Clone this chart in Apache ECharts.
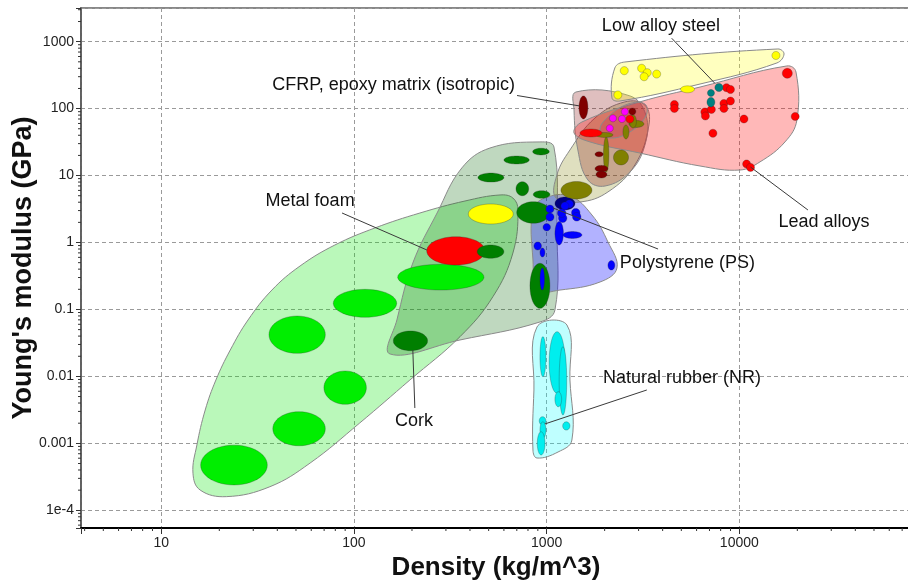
<!DOCTYPE html>
<html>
<head>
<meta charset="UTF-8">
<title>Young's modulus vs density</title>
<script src="https://cdn.jsdelivr.net/npm/echarts@6/dist/echarts.min.js"></script>
<style>
    body { margin: 0; background: #fff; }
    #root { width: 908px; height: 586px; }
</style>
</head>
<body>
<div id="root"></div>
<script>
// axis ranges: density (kg/m^3) and Young's modulus (GPa)
var densityRange = [3.83, 100000];
var modulusRange = [5.44e-5, 3184];
var densityTickLabels = ['10', '100', '1000', '10000'];      // 10^1 .. 10^4
var modulusTickLabels = ['1e-4', '0.001', '0.01', '0.1', '1', '10', '100', '1000']; // 10^-4 .. 10^3

// envelopes: outline points [density, modulus]
var foamEnvelope = [[14.6, 3.57e-4], [15.9, 2.01e-4], [21.8, 1.6e-4], [36.6, 2.25e-4], [59.2, 5.08e-4],
    [107, 2.01e-3], [195, 8.83e-3], [355, 0.0392], [526, 0.155], [668, 0.697], [710, 3.06], [668, 4.62],
    [573, 5.13], [377, 4.17], [220, 2.76], [128.5, 1.65], [79.6, 0.918], [52.5, 0.446], [37.5, 0.195],
    [28.2, 0.0697], [22.8, 0.0248], [19.2, 8.83e-3], [16.9, 3.15e-3], [15.3, 9.44e-4]];
var naturalEnvelope = [[154, 0.0216], [355, 0.035], [923, 0.065], [1104, 0.098], [1130, 1.54], [1091, 26.7],
    [923, 31.8], [508, 25.8], [363, 13.0], [270, 2.76], [202, 0.494], [167, 0.0697]];
var elastomerEnvelope = [[891, 0.0547], [1274, 0.0586], [1321, 8.83e-3], [1352, 1.12e-3], [1146, 7.43e-4],
    [891, 6.04e-4], [849, 7.94e-4], [859, 6.27e-3]];
var polymerEnvelope = [[849, 3.06], [979, 4.62], [1321, 4.95], [1718, 2.58], [2080, 1.02], [2317, 0.416],
    [1892, 0.257], [1172, 0.195], [902, 0.195], [849, 0.548]];
var glassEnvelope = [[1117, 4.62], [1130, 10.2], [1321, 24.1], [1782, 72.5], [2547, 126], [3236, 113],
    [3396, 57.0], [2871, 14.4], [2080, 5.69], [1489, 4.03]];
var compositeEnvelope = [[1419, 177], [2704, 155], [3273, 80.4], [3236, 28.6], [2704, 11.3], [2009, 6.98],
    [1637, 8.59], [1452, 24.1], [1387, 95.5]];
var metalEnvelope = [[1387, 43.3], [1524, 63.1], [3047, 126], [6252, 210], [17660, 434], [19680, 352],
    [19900, 67.6], [17260, 31.8], [12800, 16.0], [10070, 12.1], [6252, 13.9], [3047, 21.7], [1679, 31.8]];
var ceramicEnvelope = [[2259, 405], [2547, 497], [15850, 778], [17060, 655], [15670, 481], [6252, 233],
    [2399, 130], [2183, 144]];
var techCeramicEnvelope = [[1892, 48.0], [2080, 75.0], [2641, 117], [3236, 117], [3273, 77.6], [2704, 44.8], [2128, 36.4]];

// bubbles: [density min, density max, modulus min, modulus max]
var foamBubbles = [[16.0, 35.5, 2.39e-4, 9.4e-4], [37.9, 71.0, 9.2e-4, 2.97e-3], [69.8, 116, 3.83e-3, 0.01205],
    [36.2, 71.0, 0.0221, 0.0798], [78.1, 166.6, 0.0764, 0.2], [168.6, 472.8, 0.195, 0.473]];
var metalFoamBubbles = [[238.5, 478.6, 0.461, 1.22]];
var ceramicFoamBubbles = [[392, 671, 1.89, 3.76]];
var naturalBubbles = [[160, 241, 0.0242, 0.0477], [699, 1040, 1.94, 4.07], [819, 1040, 0.104, 0.49],
    [693, 807, 5.0, 8.1], [852, 1040, 4.58, 5.95], [600, 812, 14.9, 19.6], [846, 1032, 20.3, 25.6],
    [440, 600, 8.0, 10.9], [436, 600, 0.581, 0.918]];
var elastomerBubbles = [[1030, 1245, 5.6e-3, 0.0466], [1161, 1271, 2.65e-3, 0.0278], [923, 991, 9.9e-3, 0.0392],
    [1104, 1196, 3.52e-3, 5.9e-3], [915, 991, 1.88e-3, 2.5e-3], [923, 991, 1.19e-3, 2.1e-3],
    [894, 980, 6.7e-4, 1.49e-3], [1211, 1321, 1.58e-3, 2.1e-3]];
var polymerDarkBubbles = [[1104, 1403, 3.06, 4.79]];
var polymerBubbles = [[991, 1092, 2.76, 3.63], [991, 1092, 2.09, 2.76], [957, 1047, 1.49, 1.92],
    [1104, 1222, 0.918, 2.06], [1216, 1524, 1.15, 1.46], [1151, 1274, 1.99, 2.67], [1245, 1377, 3.28, 4.32],
    [1186, 1306, 3.06, 4.03], [1346, 1489, 2.40, 3.23], [1362, 1507, 2.09, 2.81], [1137, 1259, 2.37, 3.17],
    [859, 940, 0.773, 1.02], [923, 980, 0.608, 0.828], [923, 975, 0.195, 0.416], [2080, 2259, 0.388, 0.538]];
var glassBubbles = [[1186, 1718, 4.47, 8.16], [1972, 2104, 11.3, 37.7], [1803, 2208, 37.1, 44.0],
    [2222, 2660, 14.4, 24.1], [2489, 2673, 35.2, 57.0], [2673, 3198, 52.3, 66.5], [2692, 2924, 51.4, 80.4]];
var compositeBubbles = [[1472, 1637, 70, 155], [1782, 1966, 19.1, 22.7], [1782, 2080, 11.3, 14.2],
    [1803, 2056, 9.2, 11.7], [2673, 2904, 80.4, 102]];
var metalBubbles = [[4387, 4829, 100.4, 132.4], [4387, 4829, 87.5, 115.4], [6311, 6946, 77.6, 102.3],
    [6354, 6994, 67.6, 89.1], [6825, 7512, 84.6, 111.5], [7927, 8726, 104, 137], [7927, 8726, 87.5, 115.4],
    [8572, 9436, 113, 149], [8173, 8996, 179, 236], [8572, 9436, 168, 222], [10070, 11090, 61, 80.4],
    [6952, 7652, 37.3, 49.2], [16710, 18840, 284, 400], [18580, 20460, 66.5, 87.6], [10400, 11440, 13.0, 17.1],
    [10890, 11990, 11.5, 15.2], [1489, 1936, 37.7, 49.6], [2577, 2836, 61, 80]];
var steelBubbles = [[7464, 8222, 180, 238], [6830, 7430, 152, 193], [6792, 7464, 106, 147]];
var techCeramicBubbles = [[2443, 2655, 79.8, 101.5], [2117, 2301, 63.6, 80.8], [2359, 2563, 62.1, 78.9],
    [2041, 2217, 45.1, 57.3]];
var ceramicBubbles = [[2234, 2457, 139, 184], [2410, 2653, 321, 424], [2966, 3264, 349, 460], [3171, 3490, 300, 395],
    [3055, 3363, 261, 344], [3549, 3906, 286, 377], [14760, 16250, 542, 714], [4953, 5851, 172.5, 219]];

// annotations
var noteTexts = ['Low alloy steel', 'CFRP, epoxy matrix (isotropic)', 'Metal foam', 'Cork', 'Lead alloys',
    'Polystyrene (PS)', 'Natural rubber (NR)'];
var noteAt = [[3917, 1717], [684, 225], [59.2, 4.17], [205, 2.16e-3], [27480, 2.03], [2399, 0.494], [1959, 9.46e-3]];
var noteFrom = [[4457, 1125], [702, 157], [86.7, 2.76], [207, 3.37e-3], [22700, 3.06], [3786, 0.80], [3311, 6.27e-3]];
var noteTo = [[7464, 239], [1472, 110], [239, 0.773], [202, 0.0248], [11430, 13.4], [1079, 3.28], [980, 1.95e-3]];
var noteAlign = ['center', 'right', 'center', 'center', 'center', 'left', 'left'];

var FONT = '"Liberation Sans", Arial, sans-serif';

function ellipsePoints(cx, cy, rx, ry) {
    var pts = [];
    for (var i = 0; i < 48; i++) {
        var a = i / 48 * Math.PI * 2;
        pts.push([cx + rx * Math.cos(a), cy + ry * Math.sin(a)]);
    }
    return pts;
}

function envelopeSeries(points, fill) {
    return {
        type: 'custom',
        data: points,
        silent: true,
        renderItem: function (params, api) {
            if (params.dataIndex !== 0) return;
            return {
                type: 'polygon',
                shape: { points: points.map(function (p) { return api.coord(p); }), smooth: 0.4 },
                style: { fill: fill, stroke: '#8a8a8a', lineWidth: 1 }
            };
        }
    };
}

function bubbleSeries(data, fill) {
    return {
        type: 'custom',
        data: data,
        encode: { x: [0, 1], y: [2, 3] },
        silent: true,
        renderItem: function (params, api) {
            var a = api.coord([api.value(0), api.value(2)]);
            var b = api.coord([api.value(1), api.value(3)]);
            return {
                type: 'polygon',
                shape: { points: ellipsePoints((a[0] + b[0]) / 2, (a[1] + b[1]) / 2,
                    Math.abs(b[0] - a[0]) / 2, Math.abs(b[1] - a[1]) / 2) },
                style: { fill: fill, stroke: 'rgba(40,40,40,0.35)', lineWidth: 0.8 }
            };
        }
    };
}

// minor ticks at 2..9 x 10^k
var xMinor = [], yMinor = [];
for (var k = 0; k <= 4; k++) {
    for (var m = 2; m <= 9; m++) {
        var v = m * Math.pow(10, k);
        if (v > densityRange[0] && v < densityRange[1]) xMinor.push([v, modulusRange[0]]);
    }
}
for (var k2 = -5; k2 <= 3; k2++) {
    for (var m2 = 2; m2 <= 9; m2++) {
        var w = m2 * Math.pow(10, k2);
        if (w > modulusRange[0] && w < modulusRange[1]) yMinor.push([densityRange[0], w]);
    }
}

function tickLabel(labels, offset) {
    return function (val) {
        var l = Math.log10(val);
        var e = Math.round(l);
        if (Math.abs(l - e) > 0.01) return '';
        return labels[e - offset] || '';
    };
}

var series = [
    envelopeSeries(foamEnvelope, 'rgba(0,230,0,0.27)'),
    envelopeSeries(naturalEnvelope, 'rgba(0,100,0,0.25)'),
    envelopeSeries(elastomerEnvelope, 'rgba(0,255,255,0.25)'),
    envelopeSeries(polymerEnvelope, 'rgba(0,0,255,0.3)'),
    envelopeSeries(glassEnvelope, 'rgba(128,128,0,0.25)'),
    envelopeSeries(compositeEnvelope, 'rgba(128,0,0,0.25)'),
    envelopeSeries(metalEnvelope, 'rgba(255,0,0,0.28)'),
    envelopeSeries(ceramicEnvelope, 'rgba(255,255,0,0.25)'),
    envelopeSeries(techCeramicEnvelope, 'rgba(170,0,60,0.18)'),
    bubbleSeries(foamBubbles, '#00ee00'),
    bubbleSeries(metalFoamBubbles, '#ff0000'),
    bubbleSeries(ceramicFoamBubbles, '#ffff00'),
    bubbleSeries(naturalBubbles, '#007f00'),
    bubbleSeries(elastomerBubbles, '#00eeee'),
    bubbleSeries(polymerDarkBubbles, '#000080'),
    bubbleSeries(polymerBubbles, '#0000ff'),
    bubbleSeries(glassBubbles, '#808000'),
    bubbleSeries(compositeBubbles, '#800000'),
    bubbleSeries(metalBubbles, '#ff0000'),
    bubbleSeries(steelBubbles, '#008080'),
    bubbleSeries(techCeramicBubbles, '#ff00ff'),
    bubbleSeries(ceramicBubbles, '#ffff00'),
    {
        // leader lines and labels
        type: 'custom',
        data: noteAt,
        silent: true,
        clip: false,
        renderItem: function (params, api) {
            var i = params.dataIndex;
            var t = api.coord(noteAt[i]);
            var p1 = api.coord(noteFrom[i]);
            var p2 = api.coord(noteTo[i]);
            return {
                type: 'group',
                children: [{
                    type: 'line',
                    shape: { x1: p1[0], y1: p1[1], x2: p2[0], y2: p2[1] },
                    style: { stroke: '#3a3a3a', lineWidth: 1 }
                }, {
                    type: 'text',
                    x: t[0], y: t[1],
                    style: { text: noteTexts[i], fill: '#111', font: '18px ' + FONT,
                        align: noteAlign[i], verticalAlign: 'middle' }
                }]
            };
        }
    },
    {
        type: 'custom',
        data: xMinor,
        silent: true,
        clip: false,
        renderItem: function (params, api) {
            var p = api.coord([api.value(0), api.value(1)]);
            return { type: 'line', shape: { x1: p[0], y1: p[1], x2: p[0], y2: p[1] + 3 },
                style: { stroke: '#333', lineWidth: 1 } };
        }
    },
    {
        type: 'custom',
        data: yMinor,
        silent: true,
        clip: false,
        renderItem: function (params, api) {
            var p = api.coord([api.value(0), api.value(1)]);
            return { type: 'line', shape: { x1: p[0], y1: p[1], x2: p[0] - 3, y2: p[1] },
                style: { stroke: '#333', lineWidth: 1 } };
        }
    }
];

var chart = echarts.init(document.getElementById('root'));
chart.setOption({
    animation: false,
    backgroundColor: '#fff',
    grid: { left: 81, top: 8, right: -24, bottom: 58, containLabel: false, outerBoundsMode: 'none',
        show: true, borderColor: '#888', borderWidth: 2 },
    xAxis: {
        type: 'log',
        min: densityRange[0],
        max: densityRange[1],
        name: 'Density (kg/m^3)',
        nameLocation: 'middle',
        nameGap: 27,
        nameMoveOverlap: false,
        nameTextStyle: { fontSize: 26, fontWeight: 'bold', color: '#111', fontFamily: FONT, padding: [0, 21, 0, 0] },
        axisLine: { onZero: false, lineStyle: { color: '#000', width: 2 } },
        axisTick: { length: 6, lineStyle: { color: '#333' } },
        axisLabel: { fontSize: 14, color: '#222', fontFamily: FONT, margin: 8,
            formatter: tickLabel(densityTickLabels, 1) },
        splitLine: { show: true, lineStyle: { color: '#9a9a9a', type: [4, 3], width: 1 } }
    },
    yAxis: {
        type: 'log',
        min: modulusRange[0],
        max: modulusRange[1],
        name: "Young's modulus (GPa)",
        nameLocation: 'middle',
        nameGap: 44,
        nameMoveOverlap: false,
        nameTextStyle: { fontSize: 27, fontWeight: 'bold', color: '#111', fontFamily: FONT },
        axisLine: { onZero: false, lineStyle: { color: '#555', width: 1.5 } },
        axisTick: { length: 5, lineStyle: { color: '#333' } },
        axisLabel: { fontSize: 14, color: '#222', fontFamily: FONT, margin: 7,
            formatter: tickLabel(modulusTickLabels, -4) },
        splitLine: { show: true, lineStyle: { color: '#9a9a9a', type: [4, 3], width: 1 } }
    },
    series: series
});
</script>
</body>
</html>
